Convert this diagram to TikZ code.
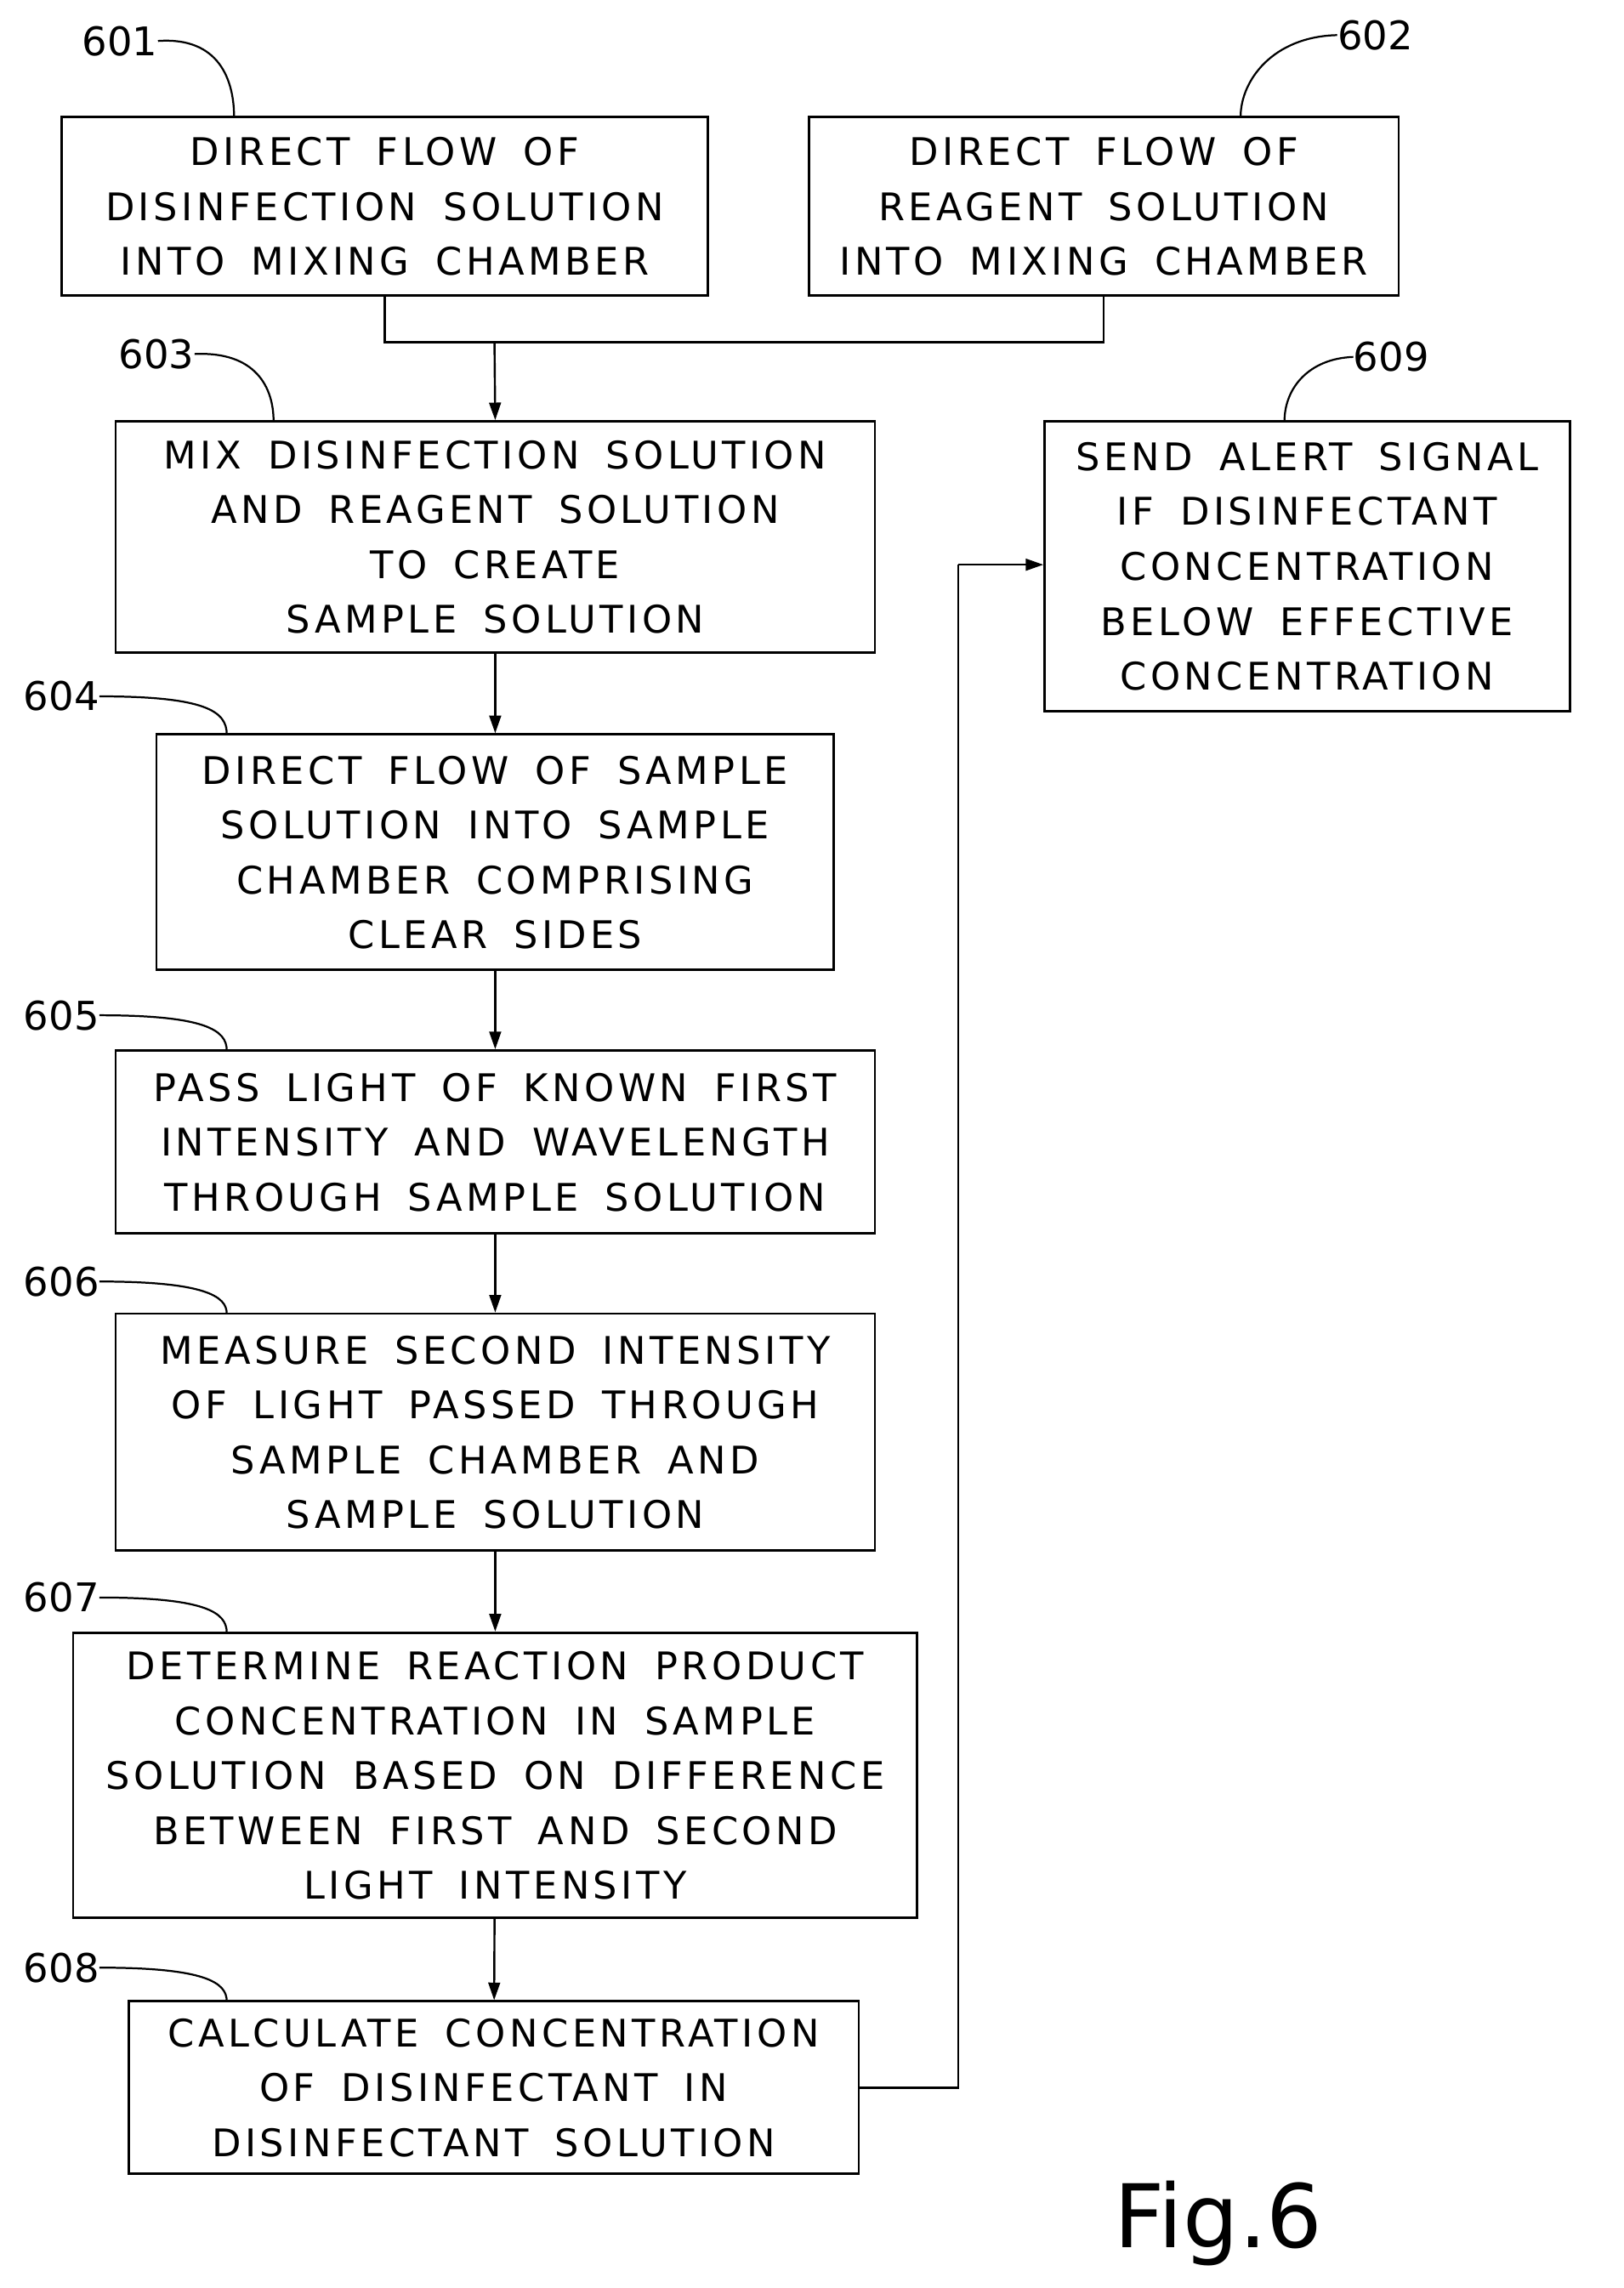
\documentclass[tikz,border=0pt]{standalone}
\usepackage{fontspec}
\setmainfont{DejaVu Sans}
\newfontfamily\boxfont[LetterSpace=10]{DejaVu Sans}
\newcommand\myboxfont{\boxfont\fontsize{26}{37.5}\selectfont\spaceskip=18pt plus 2pt\relax}
\usetikzlibrary{arrows.meta}
\begin{document}
\begin{tikzpicture}[x=1pt,y=-1pt,
 box/.style={draw,line width=1.6pt,inner sep=0pt,align=center,font=\myboxfont,text depth=0pt},
 ln/.style={line width=1.4pt},
 arr/.style={ln,-{Triangle[length=12pt,width=8pt]}},
 lab/.style={font=\fontsize{27}{30}\selectfont,inner sep=0pt},
 cur/.style={line width=1.3pt}]
\useasboundingbox (0,0) rectangle (1110,1564);
\node[box,minimum width=442,minimum height=122] (b601) at (263,141) {DIRECT FLOW OF\\DISINFECTION SOLUTION\\INTO MIXING CHAMBER};
\node[box,minimum width=403,minimum height=122] (b602) at (754.5,141) {DIRECT FLOW OF\\REAGENT SOLUTION\\INTO MIXING CHAMBER};
\node[box,minimum width=519,minimum height=158] (b603) at (338.5,367) {MIX DISINFECTION SOLUTION\\AND REAGENT SOLUTION\\TO CREATE\\SAMPLE SOLUTION};
\node[box,minimum width=359,minimum height=198] (b609) at (893.5,387) {SEND ALERT SIGNAL\\IF DISINFECTANT\\CONCENTRATION\\BELOW EFFECTIVE\\CONCENTRATION};
\node[box,minimum width=463,minimum height=161] (b604) at (338.5,582.5) {DIRECT FLOW OF SAMPLE\\SOLUTION INTO SAMPLE\\CHAMBER COMPRISING\\CLEAR SIDES};
\node[box,minimum width=519,minimum height=125] (b605) at (338.5,780.5) {PASS LIGHT OF KNOWN FIRST\\INTENSITY AND WAVELENGTH\\THROUGH SAMPLE SOLUTION};
\node[box,minimum width=519,minimum height=162] (b606) at (338.5,979) {MEASURE SECOND INTENSITY\\OF LIGHT PASSED THROUGH\\SAMPLE CHAMBER AND\\SAMPLE SOLUTION};
\node[box,minimum width=577,minimum height=195] (b607) at (338.5,1213.5) {DETERMINE REACTION PRODUCT\\CONCENTRATION IN SAMPLE\\SOLUTION BASED ON DIFFERENCE\\BETWEEN FIRST AND SECOND\\LIGHT INTENSITY};
\node[box,minimum width=499,minimum height=118] (b608) at (337.5,1427) {CALCULATE CONCENTRATION\\OF DISINFECTANT IN\\DISINFECTANT SOLUTION};
\coordinate (j) at (338,234);
\draw[ln] (b601.south) |- (j) -| (b602.south);
\draw[arr] (j) -- (b603.north);
\draw[arr] (b603) -- (b604);
\draw[arr] (b604) -- (b605);
\draw[arr] (b605) -- (b606);
\draw[arr] (b606) -- (b607);
\draw[arr] (b607) -- (b608);
\coordinate (t) at (655,386);
\draw[ln] (b608.east) -| (t);
\draw[arr] (t) -- (t -| b609.west);
% labels
\node[lab] (l601) at (82,28) {601};
\draw[cur] (l601.east) .. controls (150,25) and (160,55) .. (160,80);
\node[lab] (l602) at (940,24) {602};
\draw[cur] (l602.west) .. controls (870,25) and (848,55) .. (848,80);
\node[lab] (l603) at (107,242) {603};
\draw[cur] (l603.east) .. controls (175,240) and (187,265) .. (187,288);
\node[lab] (l609) at (951,244) {609};
\draw[cur] (l609.west) .. controls (895,245) and (878,265) .. (878,288);
\foreach \n/\y/\t in {604/476/502,605/694/718,606/876/898,607/1092/1116,608/1345/1368}{
 \node[lab] (l\n) at (42,\y) {\n};
 \draw[cur] (l\n.east) .. controls (140,\y) and (155,\y+10) .. (155,\t);
}
\node[font=\fontsize{60}{60}\selectfont,inner sep=0pt] (fig) at (833,1520) {Fig.6};
\end{tikzpicture}
\end{document}
